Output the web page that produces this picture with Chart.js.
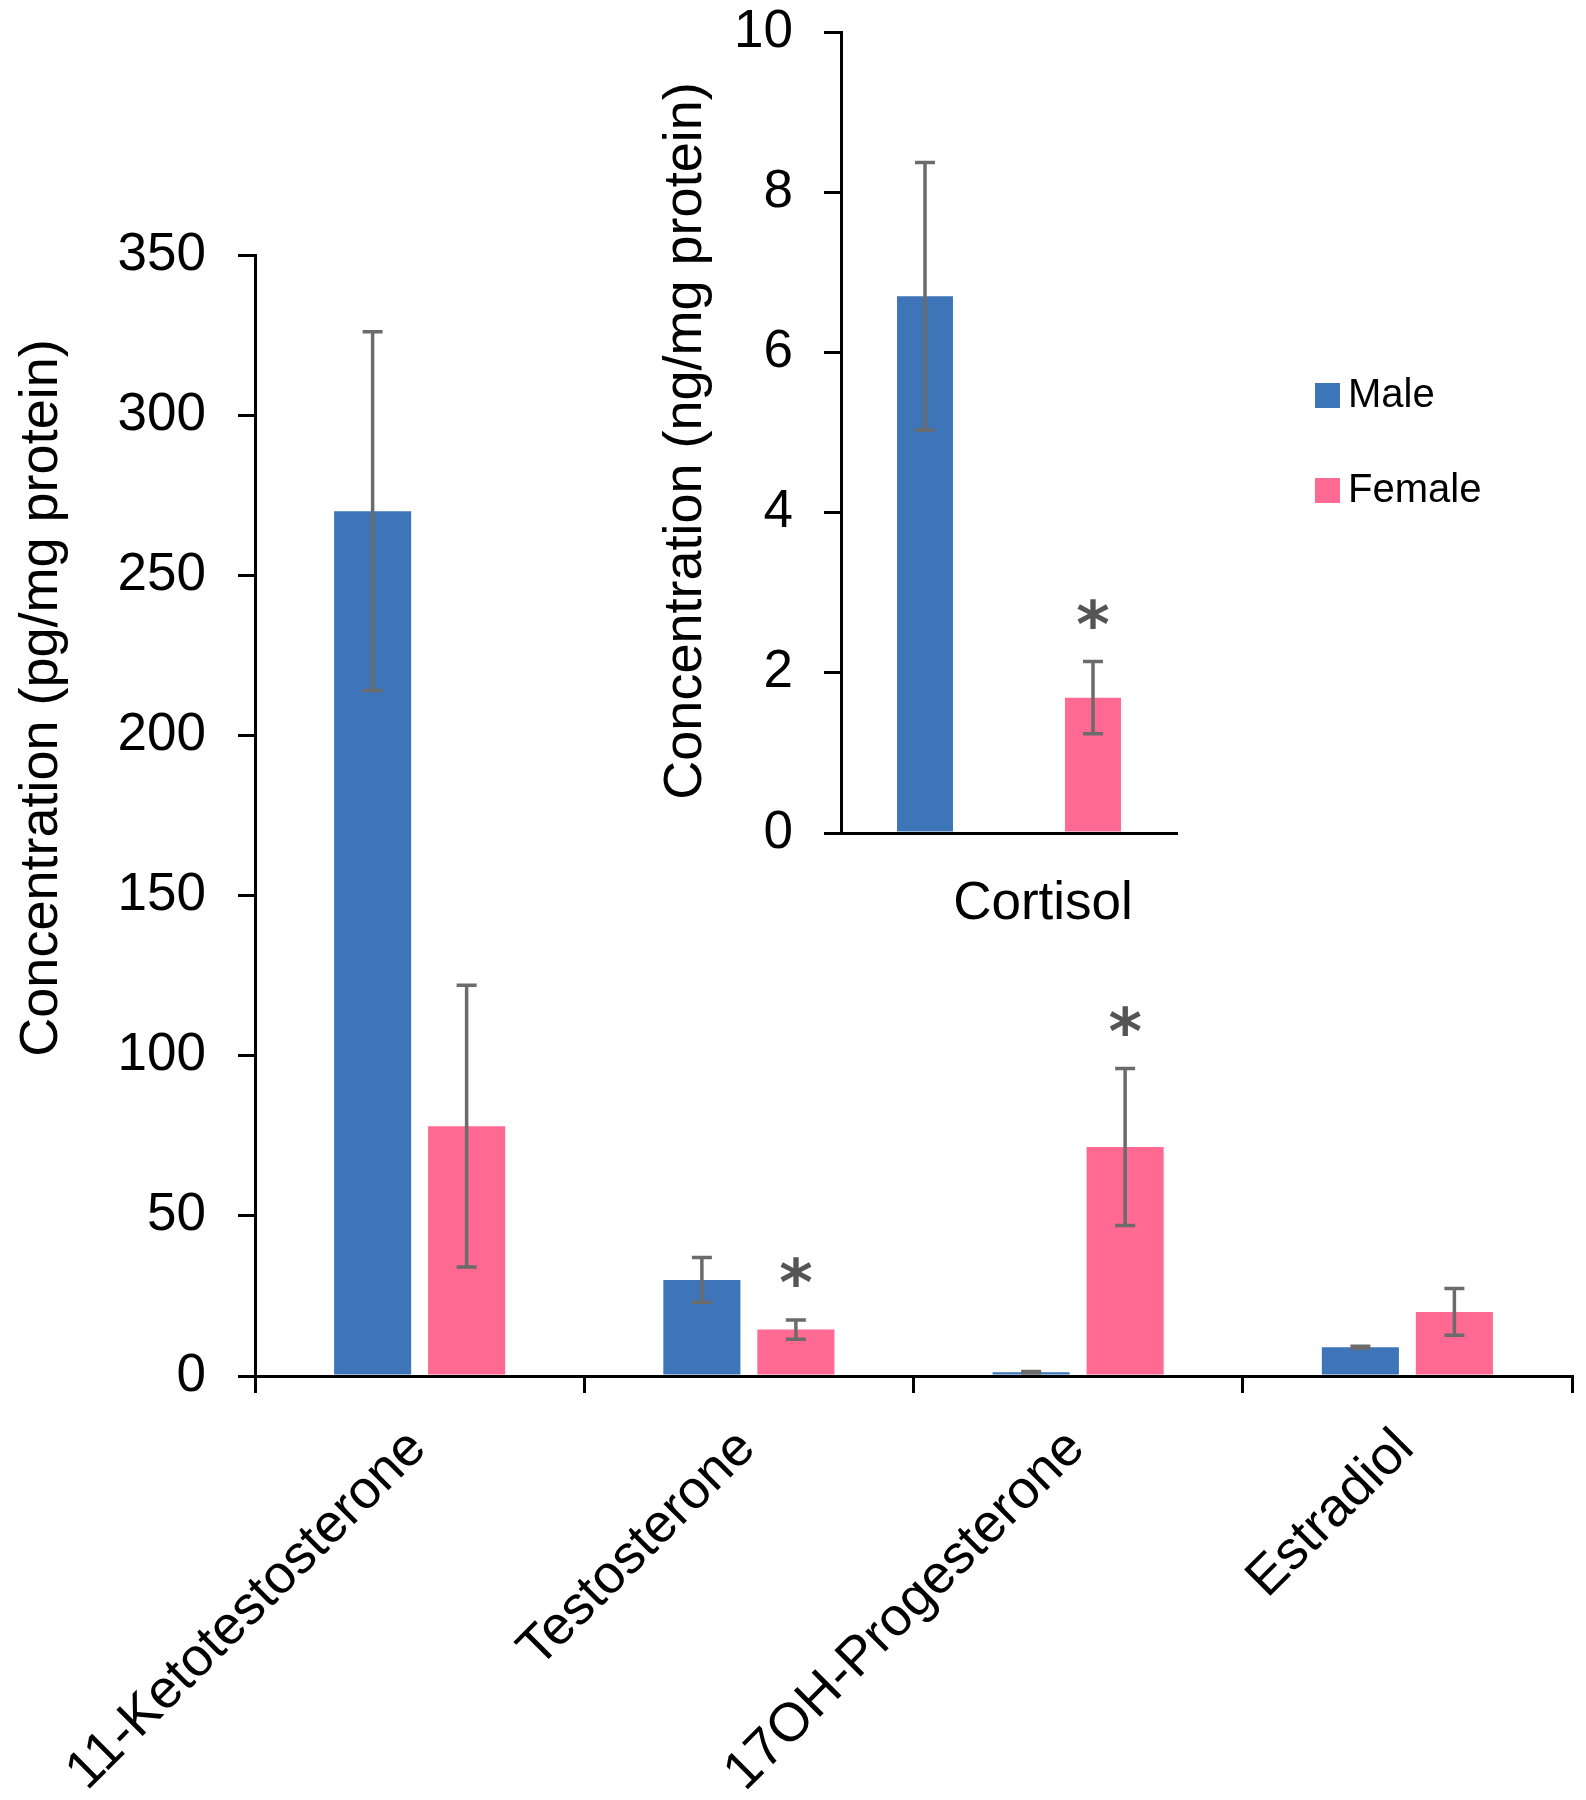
<!DOCTYPE html>
<html>
<head>
<meta charset="utf-8">
<script src="https://cdn.jsdelivr.net/npm/chart.js@4.4.1/dist/chart.umd.min.js"></script>
<style>
  html, body { margin: 0; padding: 0; background: #fff; }
  #wrap { position: relative; width: 1586px; height: 1800px; }
  #mainChart { position: absolute; left: 0; top: 0; }
  #insetChart { position: absolute; left: 560px; top: 0; }
</style>
</head>
<body>
<div id="wrap">
  <canvas id="mainChart" width="1586" height="1800"></canvas>
  <canvas id="insetChart" width="680" height="960"></canvas>
</div>
<script>
// main panel (pg/mg protein)
const hormones = ["11-Ketotestosterone", "Testosterone", "17OH-Progesterone", "Estradiol"];
const maleMean = [270, 30, 1.2, 9];
const maleErr = [56, 7, 0.2, 0.3];
const femaleMean = [78, 14.5, 71.5, 20];
const femaleErr = [44, 3, 24.5, 7.3];
const femaleSig = [false, true, true, false];
const mainTicks = [0, 50, 100, 150, 200, 250, 300, 350];

// inset (ng/mg protein)
const insetCategory = ["Cortisol"];
const cortisolMale = [6.7];
const cortisolMaleErr = [1.67];
const cortisolFemale = [1.69];
const cortisolFemaleErr = [0.45];
const cortisolSig = [true];
const insetTicks = [0, 2, 4, 6, 8, 10];

const BLUE = "#3E75B9";
const PINK = "#FF6992";
const FONT = "'Liberation Sans', Arial, sans-serif";

Chart.defaults.font.family = FONT;
Chart.defaults.color = "#000";

// error bars + significance stars
const errorBars = {
  id: "errorBars",
  afterDatasetsDraw(chart) {
    const ctx = chart.ctx;
    const y = chart.scales.y;
    ctx.save();
    chart.data.datasets.forEach((ds, i) => {
      const meta = chart.getDatasetMeta(i);
      meta.data.forEach((bar, j) => {
        const top = y.getPixelForValue(ds.data[j] + ds.err[j]);
        const bot = y.getPixelForValue(ds.data[j] - ds.err[j]);
        ctx.strokeStyle = "#6b6b6b";
        ctx.lineWidth = 3.5;
        ctx.beginPath();
        ctx.moveTo(bar.x, top); ctx.lineTo(bar.x, bot);
        ctx.moveTo(bar.x - 10, top); ctx.lineTo(bar.x + 10, top);
        ctx.moveTo(bar.x - 10, bot); ctx.lineTo(bar.x + 10, bot);
        ctx.stroke();
        if (ds.sig && ds.sig[j]) {
          ctx.font = "bold 64px 'DejaVu Sans'";
          const m = ctx.measureText("*");
          const cy = top - 48;
          ctx.fillStyle = "#555";
          ctx.textAlign = "center";
          ctx.textBaseline = "alphabetic";
          ctx.fillText("*", bar.x, cy + (m.actualBoundingBoxAscent - m.actualBoundingBoxDescent) / 2);
        }
      });
    });
    ctx.restore();
  }
};

// rotated y title at a fixed spot
const axisTitle = {
  id: "axisTitle",
  afterDraw(chart, args, opts) {
    const ctx = chart.ctx;
    ctx.save();
    ctx.translate(opts.x, opts.y);
    ctx.rotate(-Math.PI / 2);
    ctx.font = "54px " + FONT;
    ctx.fillStyle = "#000";
    ctx.textAlign = "center";
    ctx.textBaseline = "middle";
    ctx.fillText(opts.text, 0, 0);
    ctx.restore();
  }
};

// legend drawn from the datasets
const sideLegend = {
  id: "sideLegend",
  afterDraw(chart, args, opts) {
    if (!opts.show) return;
    const ctx = chart.ctx;
    ctx.save();
    ctx.font = "40px " + FONT;
    ctx.textBaseline = "middle";
    ctx.textAlign = "left";
    chart.data.datasets.forEach((ds, i) => {
      const cy = opts.y + i * 95;
      ctx.fillStyle = ds.backgroundColor;
      ctx.fillRect(opts.x, cy - 12, 25, 25);
      ctx.fillStyle = "#000";
      ctx.fillText(ds.label, opts.x + 33, cy + 1);
    });
    ctx.restore();
  }
};

function axisStyle() {
  return { color: "#000", width: 3 };
}

function createMainChart() {
  const ctx = document.getElementById("mainChart");
  new Chart(ctx, {
    type: "bar",
    data: {
      labels: hormones,
      datasets: [
        { label: "Male", data: maleMean, err: maleErr, backgroundColor: BLUE,
          categoryPercentage: 0.571, barPercentage: 0.82 },
        { label: "Female", data: femaleMean, err: femaleErr, sig: femaleSig, backgroundColor: PINK,
          categoryPercentage: 0.571, barPercentage: 0.82 }
      ]
    },
    options: {
      responsive: false,
      animation: false,
      layout: { padding: { top: 255, right: 14, left: 0, bottom: 0 } },
      plugins: {
        legend: { display: false },
        tooltip: { enabled: false },
        axisTitle: { text: "Concentration (pg/mg protein)", x: 42, y: 698 },
        sideLegend: { show: true, x: 1315, y: 395 }
      },
      scales: {
        x: {
          offset: true,
          grid: { offset: true, drawOnChartArea: false, tickLength: 17, color: "#000", lineWidth: 3 },
          border: axisStyle(),
          ticks: { color: "#000", font: { size: 54 }, maxRotation: 45, minRotation: 45, padding: 24, labelOffset: -2 },
          afterFit(s) { s.height = 424; }
        },
        y: {
          min: 0,
          max: 350,
          afterBuildTicks(s) { s.ticks = mainTicks.map(v => ({ value: v })); },
          grid: { drawOnChartArea: false, tickLength: 17, color: "#000", lineWidth: 3 },
          border: axisStyle(),
          ticks: { color: "#000", font: { size: 53 }, padding: 32 },
          afterFit(s) { s.width = 255; }
        }
      }
    },
    plugins: [errorBars, axisTitle, sideLegend]
  });
}

function createInsetChart() {
  const ctx = document.getElementById("insetChart");
  new Chart(ctx, {
    type: "bar",
    data: {
      labels: insetCategory,
      datasets: [
        { label: "Male", data: cortisolMale, err: cortisolMaleErr, backgroundColor: BLUE,
          categoryPercentage: 1.0, barPercentage: 0.333 },
        { label: "Female", data: cortisolFemale, err: cortisolFemaleErr, sig: cortisolSig, backgroundColor: PINK,
          categoryPercentage: 1.0, barPercentage: 0.333 }
      ]
    },
    options: {
      responsive: false,
      animation: false,
      layout: { padding: { top: 32, right: 63, left: 0, bottom: 0 } },
      plugins: {
        legend: { display: false },
        tooltip: { enabled: false },
        axisTitle: { text: "Concentration (ng/mg protein)", x: 126, y: 441 },
        sideLegend: { show: false }
      },
      scales: {
        x: {
          offset: true,
          grid: { display: false, drawTicks: false },
          border: axisStyle(),
          ticks: { color: "#000", font: { size: 53 }, maxRotation: 0, padding: 40, labelOffset: 34 },
          afterFit(s) { s.height = 127; }
        },
        y: {
          min: 0,
          max: 10,
          afterBuildTicks(s) { s.ticks = insetTicks.map(v => ({ value: v })); },
          grid: { drawOnChartArea: false, tickLength: 17, color: "#000", lineWidth: 3 },
          border: axisStyle(),
          ticks: { color: "#000", font: { size: 53 }, padding: 31 },
          // keep the top label from pushing the plot down
          afterFit(s) { s.width = 281; s.paddingTop = 0; s.paddingBottom = 0; }
        }
      }
    },
    plugins: [errorBars, axisTitle, sideLegend]
  });
}

window.addEventListener("DOMContentLoaded", function() {
  createMainChart();
  createInsetChart();
});
</script>
</body>
</html>
